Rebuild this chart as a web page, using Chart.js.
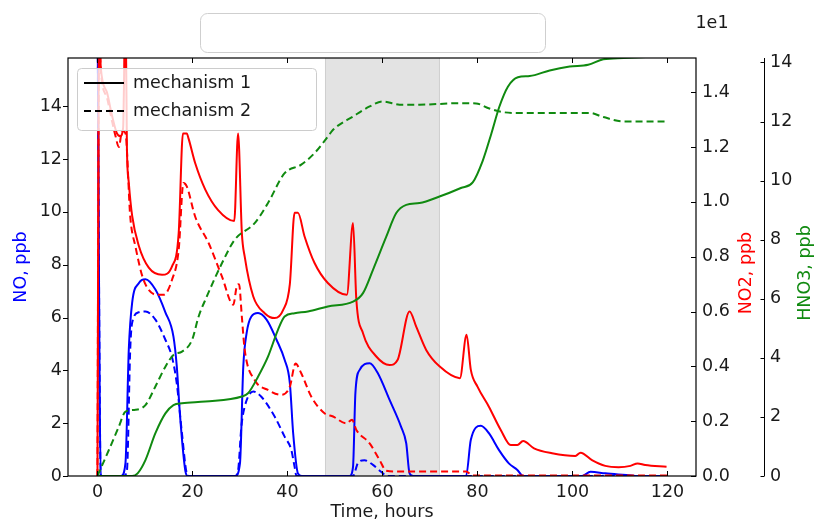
<!DOCTYPE html>
<html>
<head>
<meta charset="utf-8">
<script src="https://cdn.jsdelivr.net/npm/chart.js@4.4.1/dist/chart.umd.min.js"></script>
<style>
  html, body { margin: 0; padding: 0; background: #fff; }
</style>
</head>
<body>
<canvas id="chart" width="815" height="521"></canvas>
<script>
// --- data ---
const xTicks = [0, 20, 40, 60, 80, 100, 120];
const noTicks = [0, 2, 4, 6, 8, 10, 12, 14];
const no2Ticks = [0, 0.2, 0.4, 0.6, 0.8, 1.0, 1.2, 1.4];
const hno3Ticks = [0, 2, 4, 6, 8, 10, 12, 14];
const span = [48, 72];

// NO, mechanism 1 / 2
const tNo1 = [0, 0.7, 5.0, 5.9, 6.6, 7.3, 8.7, 10.1, 12.2, 14.3, 16.0, 16.7, 17.4, 18.5, 19, 29, 30, 30.7, 31.4, 32.4, 33.8, 35.6, 37.7, 39.4, 40.5, 41.2, 42.2, 43, 53.1, 53.8, 54.3, 55.2, 57.3, 59, 61.5, 63.9, 65, 65.7, 66.5, 77.6, 78.6, 80.7, 82.4, 84.5, 86.6, 88.4, 89.6, 102, 103.8, 106.9, 112.5, 113.5, 120];
const no1 = [18, 0, 0, 0.5, 4.8, 6.56, 7.3, 7.45, 7.06, 6.2, 5.28, 4.15, 2.25, 0.2, 0, 0, 0.48, 4.15, 5.41, 6.04, 6.17, 5.92, 5.16, 4.4, 3.52, 1.62, 0.1, 0, 0, 0.35, 3.14, 4.02, 4.27, 3.9, 2.88, 1.87, 1.24, 0.1, 0, 0, 1.37, 1.9, 1.62, 0.99, 0.48, 0.23, 0, 0, 0.16, 0.1, 0.02, 0, 0];
const tNo2 = [0, 0.7, 5.5, 6.2, 6.9, 7.3, 8.7, 10.1, 12.2, 14.3, 15.7, 16.7, 17.8, 18.8, 19.3, 29, 29.6, 30.3, 31, 32.8, 34.5, 37.3, 39.4, 40.8, 41.5, 41.9, 53.8, 54.8, 56.2, 58, 59.7, 61, 120];
const no2 = [18, 0, 0, 0.2, 4.8, 5.8, 6.2, 6.23, 5.92, 5.16, 4.5, 3.5, 1.6, 0.1, 0, 0, 0.2, 1.87, 2.63, 3.2, 3.0, 2.25, 1.49, 0.99, 0.35, 0, 0, 0.48, 0.6, 0.42, 0.16, 0, 0];

// NO2 (x10 ppb), mechanism 1 / 2
const tNox1 = [0, 0.35, 0.7, 2, 3, 4.1, 4.8, 5.4, 5.9, 6.2, 6.6, 7.3, 8.7, 10.8, 13.6, 15.7, 17.1, 18, 18.8, 19.2, 20.6, 22.7, 25.4, 28.8, 29.6, 30.4, 31, 32.8, 35.2, 37.3, 39.1, 40.5, 41.5, 42.2, 43.6, 45.7, 48.5, 52.5, 53.8, 54.5, 55.9, 58.7, 61.5, 63.2, 65.7, 67.1, 69.2, 72, 76.3, 77.7, 78.6, 80, 82.4, 84.9, 87, 88.4, 89.6, 91.9, 95.7, 100.6, 101.7, 104.1, 106.9, 109.7, 112.2, 113.7, 115.3, 119.8];
const nox1 = [0, 1.65, 1.49, 1.4, 1.32, 1.25, 1.24, 1.27, 1.75, 1.2, 1.07, 0.95, 0.84, 0.76, 0.734, 0.765, 0.886, 1.25, 1.25, 1.23, 1.14, 1.045, 0.97, 0.93, 1.25, 0.886, 0.80, 0.655, 0.594, 0.576, 0.606, 0.70, 0.96, 0.96, 0.874, 0.777, 0.704, 0.661, 0.923, 0.643, 0.521, 0.436, 0.405, 0.424, 0.60, 0.545, 0.46, 0.40, 0.357, 0.515, 0.387, 0.326, 0.253, 0.168, 0.113, 0.113, 0.128, 0.101, 0.083, 0.073, 0.085, 0.058, 0.037, 0.032, 0.037, 0.046, 0.040, 0.034];
const tNox2 = [0, 0.35, 0.7, 2, 3, 3.8, 4.5, 5.2, 5.9, 6.9, 8, 9.7, 12.5, 13.9, 15.7, 17.1, 18.1, 18.8, 20.6, 23.4, 26.2, 28.6, 29.3, 29.8, 30.4, 31, 33.1, 35.9, 38.7, 40.5, 41.7, 42.9, 45, 47.8, 49.6, 52.4, 53.6, 54.5, 57.3, 59.4, 60.8, 63.6, 77.6, 79, 120];
const nox2 = [0, 1.65, 1.48, 1.38, 1.3, 1.24, 1.2, 1.26, 1.25, 0.947, 0.837, 0.716, 0.661, 0.661, 0.716, 0.825, 1.069, 1.057, 0.945, 0.85, 0.728, 0.625, 0.69, 0.70, 0.58, 0.46, 0.35, 0.314, 0.296, 0.326, 0.41, 0.375, 0.29, 0.229, 0.217, 0.192, 0.205, 0.168, 0.119, 0.058, 0.019, 0.016, 0.016, 0.002, 0.002];

// HNO3, mechanism 1 / 2
const tHno1 = [0, 7.3, 8.5, 10.1, 12.2, 14.3, 16, 17.8, 22.7, 30.4, 31.7, 33.8, 35.9, 38, 39.4, 41.5, 44.3, 48.5, 53.8, 55.9, 58, 60.8, 62.9, 65, 67.8, 72, 76.5, 79, 81.1, 82.9, 84.6, 86.4, 88.5, 91, 95.2, 99.4, 103.3, 106.5, 110.7, 117.7, 120];
const hno1 = [0, 0, 0.1, 0.54, 1.45, 2.12, 2.4, 2.46, 2.52, 2.69, 2.8, 3.36, 4.04, 4.95, 5.4, 5.51, 5.57, 5.74, 5.9, 6.19, 6.98, 8.1, 8.9, 9.18, 9.24, 9.46, 9.75, 9.94, 10.67, 11.58, 12.5, 13.18, 13.5, 13.54, 13.73, 13.86, 13.92, 14.11, 14.15, 14.2, 14.22];
const tHno2 = [0, 2.4, 4.5, 5.9, 8, 10.1, 12.2, 14.3, 16, 17.8, 19.9, 21.3, 23, 26.2, 28.9, 33.1, 35.9, 39.4, 42.9, 45.7, 48.5, 49.6, 53.8, 57.3, 60.1, 63.6, 67.8, 76.2, 79.7, 82.5, 85.3, 88.1, 103.6, 106.5, 110.7, 120];
const hno2 = [0, 0.88, 1.67, 2.18, 2.24, 2.4, 3.03, 3.7, 4.1, 4.21, 4.6, 5.4, 6.07, 7.2, 8.0, 8.56, 9.24, 10.25, 10.54, 10.93, 11.49, 11.72, 12.17, 12.51, 12.68, 12.57, 12.57, 12.62, 12.61, 12.44, 12.32, 12.29, 12.29, 12.15, 12.0, 12.0];

const FONT = 'DejaVu Sans';
const TXT = '#1a1a1a';
const GREEN = '#108a10';
const DASH = [7, 4];

function pts(t, v) {
  return t.map((x, i) => ({ x: x, y: v[i] }));
}

function line(data, axis, color, dashed, order) {
  return {
    data: data, yAxisID: axis, borderColor: color, borderWidth: 2,
    borderDash: dashed ? DASH : [], pointRadius: 0, fill: false,
    cubicInterpolationMode: 'monotone', order: order, clip: 0
  };
}

function setTicks(list) {
  return scale => { scale.ticks = list.map(v => ({ value: v })); };
}

// spans, frame, ticks, legend, and the bits matplotlib put around the axes
const decor = {
  id: 'decor',
  beforeDatasetsDraw(chart) {
    const { ctx, chartArea: a, scales: { x } } = chart;
    const x0 = x.getPixelForValue(span[0]), x1 = x.getPixelForValue(span[1]);
    ctx.save();
    ctx.fillStyle = 'rgba(128,128,128,0.22)';
    ctx.fillRect(x0, a.top, x1 - x0, a.bottom - a.top);
    ctx.strokeStyle = 'rgba(128,128,128,0.3)';
    ctx.lineWidth = 1;
    ctx.beginPath();
    ctx.moveTo(x0, a.top); ctx.lineTo(x0, a.bottom);
    ctx.moveTo(x1, a.top); ctx.lineTo(x1, a.bottom);
    ctx.stroke();
    ctx.restore();
  },
  afterDatasetsDraw(chart) {
    const { ctx, chartArea: a, scales } = chart;
    ctx.save();
    // legend
    ctx.fillStyle = 'rgba(255,255,255,0.8)';
    ctx.strokeStyle = '#cccccc';
    ctx.lineWidth = 1;
    ctx.beginPath();
    ctx.roundRect(77.5, 68.5, 239, 62, 4);
    ctx.fill(); ctx.stroke();
    ctx.strokeStyle = '#000';
    ctx.lineWidth = 2;
    ctx.beginPath(); ctx.moveTo(84, 83); ctx.lineTo(124, 83); ctx.stroke();
    ctx.setLineDash(DASH);
    ctx.beginPath(); ctx.moveTo(84, 111); ctx.lineTo(124, 111); ctx.stroke();
    ctx.setLineDash([]);
    ctx.fillStyle = TXT;
    ctx.font = '17.5px "' + FONT + '"';
    ctx.textBaseline = 'middle';
    ctx.fillText('mechanism 1', 133, 83);
    ctx.fillText('mechanism 2', 133, 111);

    // frame
    ctx.strokeStyle = '#000';
    ctx.lineWidth = 1.2;
    ctx.strokeRect(a.left, a.top, a.right - a.left, a.bottom - a.top);
    ctx.lineWidth = 1;
    ctx.beginPath();
    xTicks.forEach(v => {
      const px = Math.round(scales.x.getPixelForValue(v)) + 0.5;
      ctx.moveTo(px, a.bottom); ctx.lineTo(px, a.bottom - 5);
      ctx.moveTo(px, a.top); ctx.lineTo(px, a.top + 5);
    });
    noTicks.forEach(v => {
      const py = Math.round(scales.y.getPixelForValue(v)) + 0.5;
      ctx.moveTo(a.left - 5, py); ctx.lineTo(a.left, py);
    });
    no2Ticks.forEach(v => {
      const py = Math.round(scales.y1.getPixelForValue(v)) + 0.5;
      ctx.moveTo(a.right - 5, py); ctx.lineTo(a.right, py);
    });
    // third axis spine
    const sx = Math.round(scales.y2.left) + 0.5;
    ctx.moveTo(sx, a.top); ctx.lineTo(sx, a.bottom);
    hno3Ticks.forEach(v => {
      const py = Math.round(scales.y2.getPixelForValue(v)) + 0.5;
      ctx.moveTo(sx - 4, py); ctx.lineTo(sx, py);
    });
    ctx.stroke();
    ctx.restore();
  },
  afterDraw(chart) {
    const { ctx, chartArea: a } = chart;
    ctx.save();
    // blanked-out title box
    ctx.fillStyle = '#fff';
    ctx.strokeStyle = '#cfcfcf';
    ctx.lineWidth = 1;
    ctx.beginPath();
    ctx.roundRect(200.5, 13.5, 345, 39, 7);
    ctx.fill(); ctx.stroke();

    ctx.font = '17.5px "' + FONT + '"';
    ctx.fillStyle = TXT;
    ctx.textAlign = 'center';
    ctx.textBaseline = 'middle';
    ctx.fillText('1e1', 712, 23);

    const midY = (a.top + a.bottom) / 2 + 6;
    ctx.fillStyle = '#ff0000';
    ctx.translate(746, midY);
    ctx.rotate(-Math.PI / 2);
    ctx.fillText('NO2, ppb', 0, 0);
    ctx.rotate(Math.PI / 2);
    ctx.translate(805 - 746, 0);
    ctx.rotate(-Math.PI / 2);
    ctx.fillStyle = GREEN;
    ctx.fillText('HNO3, ppb', 0, 0);
    ctx.restore();
  }
};

const tickFont = { family: FONT, size: 17.5 };

new Chart(document.getElementById('chart'), {
  type: 'line',
  data: {
    datasets: [
      line(pts(tHno1, hno1), 'y2', GREEN, false, 0),
      line(pts(tHno2, hno2), 'y2', GREEN, true, 0),
      line(pts(tNox1, nox1), 'y1', '#ff0000', false, 1),
      line(pts(tNox2, nox2), 'y1', '#ff0000', true, 1),
      line(pts(tNo1, no1), 'y', '#0000ff', false, 2),
      line(pts(tNo2, no2), 'y', '#0000ff', true, 2)
    ]
  },
  options: {
    responsive: false,
    animation: false,
    devicePixelRatio: 1,
    layout: { padding: { top: 58, left: 0, right: 0, bottom: 0 } },
    plugins: { legend: { display: false }, tooltip: { enabled: false } },
    scales: {
      x: {
        type: 'linear', min: -6.2, max: 126,
        afterBuildTicks: setTicks(xTicks),
        afterFit: s => { s.height = 45; },
        grid: { display: false, drawTicks: false },
        border: { display: false },
        ticks: { font: tickFont, color: TXT, padding: 6, maxRotation: 0, callback: v => v },
        title: { display: true, text: 'Time, hours', font: tickFont, color: TXT, padding: { top: 0, bottom: -2 } }
      },
      y: {
        position: 'left', min: 0, max: 15.83,
        afterBuildTicks: setTicks(noTicks),
        afterFit: s => { s.width = 68; },
        grid: { display: false, drawTicks: false },
        border: { display: false },
        ticks: { font: tickFont, color: TXT, padding: 6, callback: v => v },
        title: { display: true, text: 'NO, ppb', font: tickFont, color: '#0000ff', padding: { top: 11, bottom: 0 } }
      },
      y1: {
        position: 'right', weight: 0, min: 0, max: 1.525,
        afterBuildTicks: setTicks(no2Ticks),
        afterFit: s => { s.width = 68; },
        grid: { display: false, drawTicks: false },
        border: { display: false },
        ticks: { font: tickFont, color: TXT, padding: 6, callback: v => v.toFixed(1) }
      },
      y2: {
        position: 'right', weight: 1, min: 0, max: 14.15,
        afterBuildTicks: setTicks(hno3Ticks),
        afterFit: s => { s.width = 51; },
        grid: { display: false, drawTicks: false },
        border: { display: false },
        ticks: { font: tickFont, color: TXT, padding: 6, callback: v => v }
      }
    }
  },
  plugins: [decor]
});
</script>
</body>
</html>
